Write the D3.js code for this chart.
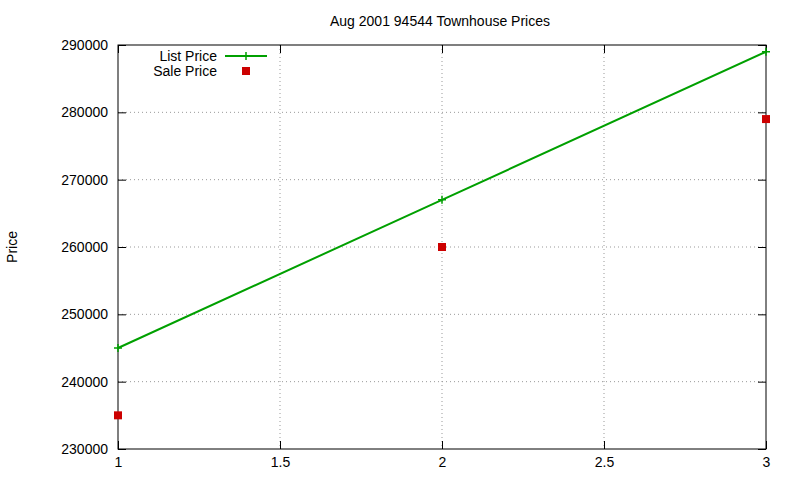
<!DOCTYPE html>
<html><head><meta charset="utf-8">
<script src="https://cdn.jsdelivr.net/npm/d3@7"></script>
<style>body{margin:0;background:#fff}text{font-family:"Liberation Sans",Arial,sans-serif;font-size:14px;fill:#000}</style>
</head><body><svg width="800" height="480"></svg>
<script>
const xs=[1,2,3];
const listPrice=[245000,267000,289000];
const salePrice=[235000,260000,279000];
const xTicks=[1,1.5,2,2.5,3];
const yTicks=[230000,240000,250000,260000,270000,280000,290000];
const svg=d3.select("svg");
const L=118,R=766,T=45,B=449;
const x=d3.scaleLinear().domain([1,3]).range([L,R]);
const y=d3.scaleLinear().domain([230000,290000]).range([B,T]);
const g=svg.append("g");
xTicks.forEach(t=>{ if(t>1&&t<3) g.append("line").attr("x1",x(t)).attr("x2",x(t)).attr("y1",T).attr("y2",B).attr("stroke","#999").attr("stroke-dasharray","1,3");});
yTicks.forEach(t=>{ if(t>230000&&t<290000) g.append("line").attr("x1",L).attr("x2",R).attr("y1",y(t)).attr("y2",y(t)).attr("stroke","#999").attr("stroke-dasharray","1,3");});
const yAx=svg.append("g").attr("transform",`translate(${L},0)`).call(d3.axisLeft(y).tickValues(yTicks).tickFormat(d3.format("d")).tickSizeInner(-8).tickSizeOuter(0).tickPadding(10));
const yAx2=svg.append("g").attr("transform",`translate(${R},0)`).call(d3.axisRight(y).tickValues(yTicks).tickFormat("").tickSizeInner(-8).tickSizeOuter(0));
const xAx=svg.append("g").attr("transform",`translate(0,${B})`).call(d3.axisBottom(x).tickValues(xTicks).tickFormat(d3.format("")).tickSizeInner(-8).tickSizeOuter(0).tickPadding(8));
const xAx2=svg.append("g").attr("transform",`translate(0,${T})`).call(d3.axisTop(x).tickValues(xTicks).tickFormat("").tickSizeInner(-8).tickSizeOuter(0));
svg.selectAll(".domain").remove();
svg.selectAll(".tick text").style("font-size","14px").style("font-family","Liberation Sans, Arial, sans-serif");
svg.append("rect").attr("x",L).attr("y",T).attr("width",R-L).attr("height",B-T).attr("fill","none").attr("stroke","#000");
const line=d3.line().x((d,i)=>x(xs[i])).y(d=>y(d));
svg.append("path").datum(listPrice).attr("d",line).attr("fill","none").attr("stroke","#00a000").attr("stroke-width",2);
const plus=(cx,cy)=>svg.append("path").attr("d",`M${cx-4},${cy}H${cx+4}M${cx},${cy-4}V${cy+4}`).attr("stroke","#00a000").attr("stroke-width",1.5);
listPrice.forEach((d,i)=>plus(x(xs[i]),y(d)));
svg.selectAll(".sq").data(salePrice).enter().append("rect").attr("x",(d,i)=>x(xs[i])-4).attr("y",d=>y(d)-4).attr("width",8).attr("height",8).attr("fill","#cc0000");
svg.append("text").attr("x",440).attr("y",26).attr("text-anchor","middle").text("Aug 2001 94544 Townhouse Prices");
svg.append("text").attr("transform","translate(17,247) rotate(-90)").attr("text-anchor","middle").text("Price");
svg.append("text").attr("x",217).attr("y",61).attr("text-anchor","end").text("List Price");
svg.append("line").attr("x1",225).attr("x2",267).attr("y1",56).attr("y2",56).attr("stroke","#00a000").attr("stroke-width",2);
plus(246,56);
svg.append("text").attr("x",217).attr("y",76).attr("text-anchor","end").text("Sale Price");
svg.append("rect").attr("x",242).attr("y",67).attr("width",8).attr("height",8).attr("fill","#cc0000");
</script></body></html>
